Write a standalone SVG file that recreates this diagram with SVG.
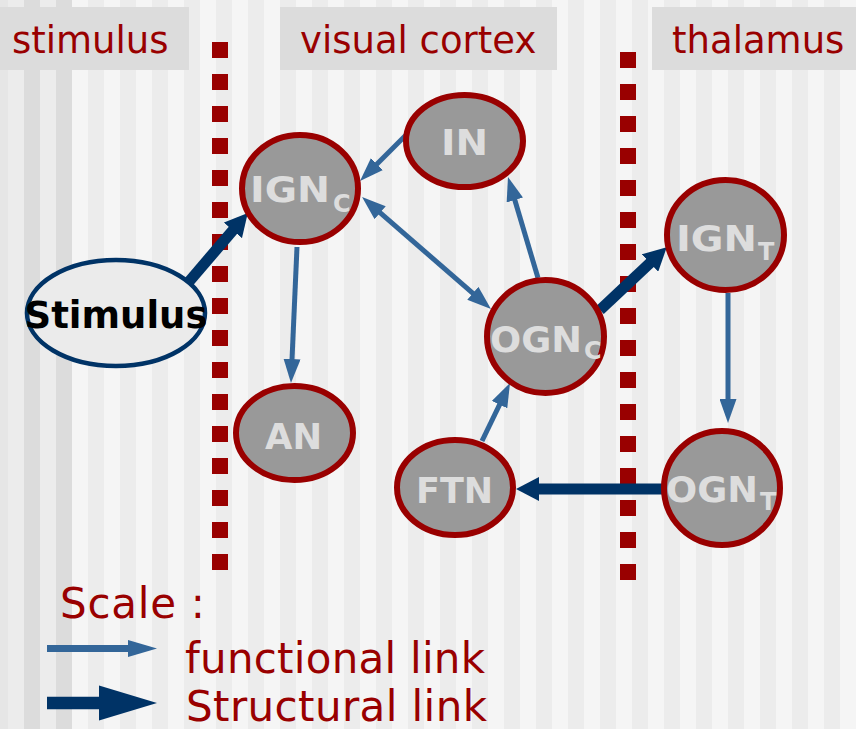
<svg xmlns="http://www.w3.org/2000/svg" width="856" height="729" viewBox="0 0 856 729">
<defs>
<pattern id="stripes" patternUnits="userSpaceOnUse" x="72" y="0" width="32" height="729">
<rect x="0" y="0" width="16" height="729" fill="#f5f5f5"/>
<rect x="16" y="0" width="16" height="729" fill="#ececec"/>
</pattern>
<marker id="fh" markerUnits="userSpaceOnUse" markerWidth="24" markerHeight="17" refX="12" refY="8.5" orient="auto-start-reverse">
<path d="M0,0 L24,8.5 L0,17 z" fill="#336699"/>
</marker>
<marker id="sh" markerUnits="userSpaceOnUse" markerWidth="23" markerHeight="24" refX="11" refY="12" orient="auto">
<path d="M0,0 L23,12 L0,24 z" fill="#003366"/>
</marker>
</defs>
<style>
.hdr{fill:#dcdcdc}
.htxt{font-family:"DejaVu Sans",Verdana,sans-serif;font-size:37px;fill:#990000}
.ltxt{font-family:"DejaVu Sans",Verdana,sans-serif;font-size:42px;fill:#990000}
.dots{stroke:#990000;stroke-width:16;stroke-dasharray:16 16;fill:none}
.node{fill:#999999;stroke:#990000;stroke-width:6}
.lab{font-family:"DejaVu Sans",Verdana,sans-serif;font-size:36px;font-weight:bold;fill:#dddddd}
.sub{font-size:24px}
.fl{stroke:#336699;stroke-width:5;fill:none;marker-end:url(#fh)}
.sl{stroke:#003366;stroke-width:11;fill:none;marker-end:url(#sh)}
</style>
<!-- background -->
<rect x="0" y="0" width="856" height="729" fill="url(#stripes)"/>
<rect x="0" y="0" width="8" height="729" fill="#e6e6e6"/>
<rect x="8" y="0" width="16" height="729" fill="#ececec"/>
<rect x="24" y="0" width="16" height="729" fill="#dcdcdc"/>
<rect x="40" y="0" width="16" height="729" fill="#ececec"/>
<rect x="56" y="0" width="16" height="729" fill="#dcdcdc"/>
<!-- headers -->
<g id="headers">
<rect class="hdr" x="0" y="7" width="189" height="63"/>
<rect class="hdr" x="280" y="7" width="277" height="63"/>
<rect class="hdr" x="652" y="7" width="204" height="63"/>
<text class="htxt" x="12" y="53">stimulus</text>
<text class="htxt" x="300" y="53">visual cortex</text>
<text class="htxt" x="672" y="53">thalamus</text>
</g>
<!-- borders -->
<g id="borders">
<line class="dots" x1="220" y1="42" x2="220" y2="570"/>
<line class="dots" x1="628" y1="52" x2="628" y2="580"/>
</g>
<!-- connectors -->
<g id="connectors">
<line class="fl" x1="407" y1="134" x2="368.5" y2="172.5"/>
<line class="fl" x1="371.1" y1="204.9" x2="481.9" y2="301.1" marker-start="url(#fh)"/>
<line class="fl" x1="297" y1="247" x2="291.5" y2="371"/>
<line class="fl" x1="538" y1="278" x2="511.4" y2="188.5"/>
<line class="fl" x1="482" y1="441" x2="504.8" y2="393.8"/>
<line class="fl" x1="728" y1="293" x2="728" y2="411"/>
<line class="sl" x1="187" y1="284" x2="240" y2="222"/>
<line class="sl" x1="600" y1="310" x2="658" y2="255.5"/>
<line class="sl" x1="662" y1="489" x2="528" y2="489"/>
</g>
<!-- nodes -->
<g id="stimulus">
<ellipse cx="116" cy="313" rx="89" ry="53" fill="#ebebeb" stroke="#003366" stroke-width="4.5"/>
<text x="116" y="328" text-anchor="middle" font-family="DejaVu Sans,Verdana,sans-serif" font-size="37" font-weight="bold" fill="#000000">Stimulus</text>
</g>
<g id="IGNC">
<ellipse class="node" cx="300" cy="188.5" rx="58" ry="53.5"/>
<text class="lab" x="250" y="202"><tspan textLength="80" lengthAdjust="spacingAndGlyphs">IGN</tspan><tspan class="sub" x="333" dy="10">C</tspan></text>
</g>
<g id="IN">
<ellipse class="node" cx="464.5" cy="141" rx="58.5" ry="46"/>
<text class="lab" x="441" y="155" textLength="47" lengthAdjust="spacingAndGlyphs">IN</text>
</g>
<g id="OGNC">
<ellipse class="node" cx="545.5" cy="336.5" rx="58.5" ry="56.5"/>
<text class="lab" x="490" y="352"><tspan textLength="92" lengthAdjust="spacingAndGlyphs">OGN</tspan><tspan class="sub" x="584" dy="7">C</tspan></text>
</g>
<g id="AN">
<ellipse class="node" cx="294.5" cy="433" rx="58.5" ry="47"/>
<text class="lab" x="265" y="449" textLength="57" lengthAdjust="spacingAndGlyphs">AN</text>
</g>
<g id="FTN">
<ellipse class="node" cx="455" cy="487.5" rx="58" ry="47.5"/>
<text class="lab" x="416" y="503" textLength="77" lengthAdjust="spacingAndGlyphs">FTN</text>
</g>
<g id="IGNT">
<ellipse class="node" cx="725.5" cy="235" rx="58.5" ry="55"/>
<text class="lab" x="676" y="251"><tspan textLength="81" lengthAdjust="spacingAndGlyphs">IGN</tspan><tspan class="sub" x="758" dy="9">T</tspan></text>
</g>
<g id="OGNT">
<ellipse class="node" cx="722" cy="488" rx="58" ry="57"/>
<text class="lab" x="666" y="502"><tspan textLength="92" lengthAdjust="spacingAndGlyphs">OGN</tspan><tspan class="sub" x="760" dy="8">T</tspan></text>
</g>
<!-- legend -->
<g id="legend">
<text class="ltxt" x="60" y="618" textLength="145">Scale :</text>
<line x1="47" y1="648.5" x2="130" y2="648.5" stroke="#336699" stroke-width="7"/>
<polygon points="128,640 157,648.5 128,657" fill="#336699"/>
<text class="ltxt" x="185" y="673" textLength="300">functional link</text>
<line x1="47" y1="703" x2="101" y2="703" stroke="#003366" stroke-width="12.7"/>
<polygon points="99,685.5 157,703 99,720.5" fill="#003366"/>
<text class="ltxt" x="186" y="721" textLength="301">Structural link</text>
</g>
</svg>
